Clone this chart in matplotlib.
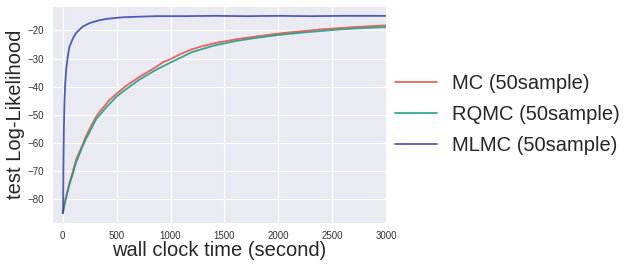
import matplotlib
matplotlib.use("Agg")
import matplotlib.pyplot as plt
import seaborn as sns

sns.set_style("darkgrid")
plt.rcParams['font.family'] = ['Liberation Sans', 'DejaVu Sans']

mc_t = [0, 25, 61, 95, 123, 155, 185, 215, 247, 280, 309, 340, 400, 432, 500, 556,
        600, 711, 800, 865, 935, 1000, 1097, 1200, 1283, 1400, 1468, 1600, 1654, 1800,
        1900, 2000, 2238, 2400, 2550, 2700, 2850, 3000]
mc_v = [-85, -80, -74.4, -70, -66, -63.2, -60.5, -57.7, -55.2, -52.8, -50.7, -49,
        -46.3, -44.8, -42.5, -40.7, -39.4, -36.5, -34.5, -33, -31.2, -30.2, -28.3,
        -26.7, -25.7, -24.6, -24.1, -23.2, -22.9, -22.1, -21.6, -21.1, -20.2, -19.6,
        -19.2, -18.8, -18.5, -18.2]

rqmc_t = [0, 25, 61, 95, 123, 155, 185, 215, 247, 280, 309, 400, 500, 556, 711, 865,
          1000, 1200, 1400, 1600, 1800, 2000, 2238, 2550, 2800, 3000]
rqmc_v = [-85, -80.5, -75, -70.8, -67, -64, -61.2, -58.6, -56.3, -53.8, -51.6, -47.5,
          -43.5, -41.8, -37.5, -34, -31.4, -27.7, -25.4, -23.8, -22.6, -21.6, -20.7,
          -19.7, -19.1, -18.8]

mlmc_t = [0, 3, 6, 10, 15, 21, 31, 46, 61, 93, 123, 185, 247, 325, 400, 556, 700,
          865, 1100, 1400, 1700, 2000, 2300, 2600, 3000]
mlmc_v = [-85, -84.5, -68, -55, -46, -40, -34.2, -29.4, -25.9, -22.9, -20.9, -18.6,
          -17.4, -16.5, -15.9, -15.3, -15.1, -14.9, -14.9, -14.8, -14.9, -14.8,
          -14.9, -14.8, -14.8]

labels = ["MC (50sample)", "RQMC (50sample)", "MLMC (50sample)"]
colors = ["#f0493a", "#119c86", "#3442b0"]

fig = plt.figure(figsize=(6.31, 2.67), dpi=100)
ax = fig.add_axes([52 / 631, 1 - 223 / 267, (386 - 52) / 631, (223 - 6) / 267])

ax.plot(mc_t, mc_v, color=colors[0], lw=1.3, alpha=0.85, label=labels[0])
ax.plot(rqmc_t, rqmc_v, color=colors[1], lw=1.3, alpha=0.85, label=labels[1])
ax.plot(mlmc_t, mlmc_v, color=colors[2], lw=1.3, alpha=0.85, label=labels[2])

ax.set_xlim(-100, 3000)
ax.set_xticks([0, 500, 1000, 1500, 2000, 2500, 3000])
ax.set_yticks([-80, -70, -60, -50, -40, -30, -20])
ax.tick_params(labelsize=7, colors="#333333", pad=2)
ax.set_xlabel("wall clock time (second)", fontsize=14.5, color="#262626", labelpad=0)
ax.set_ylabel("test Log-Likelihood", fontsize=14.5, color="#262626", labelpad=2)

leg = ax.legend(loc="center left", bbox_to_anchor=(1.0, 0.5), fontsize=14.5,
                frameon=False, handlelength=2.1, handletextpad=0.75,
                labelspacing=0.6, borderaxespad=0.15, borderpad=0.3)

fig.savefig("out.png", dpi=100)
